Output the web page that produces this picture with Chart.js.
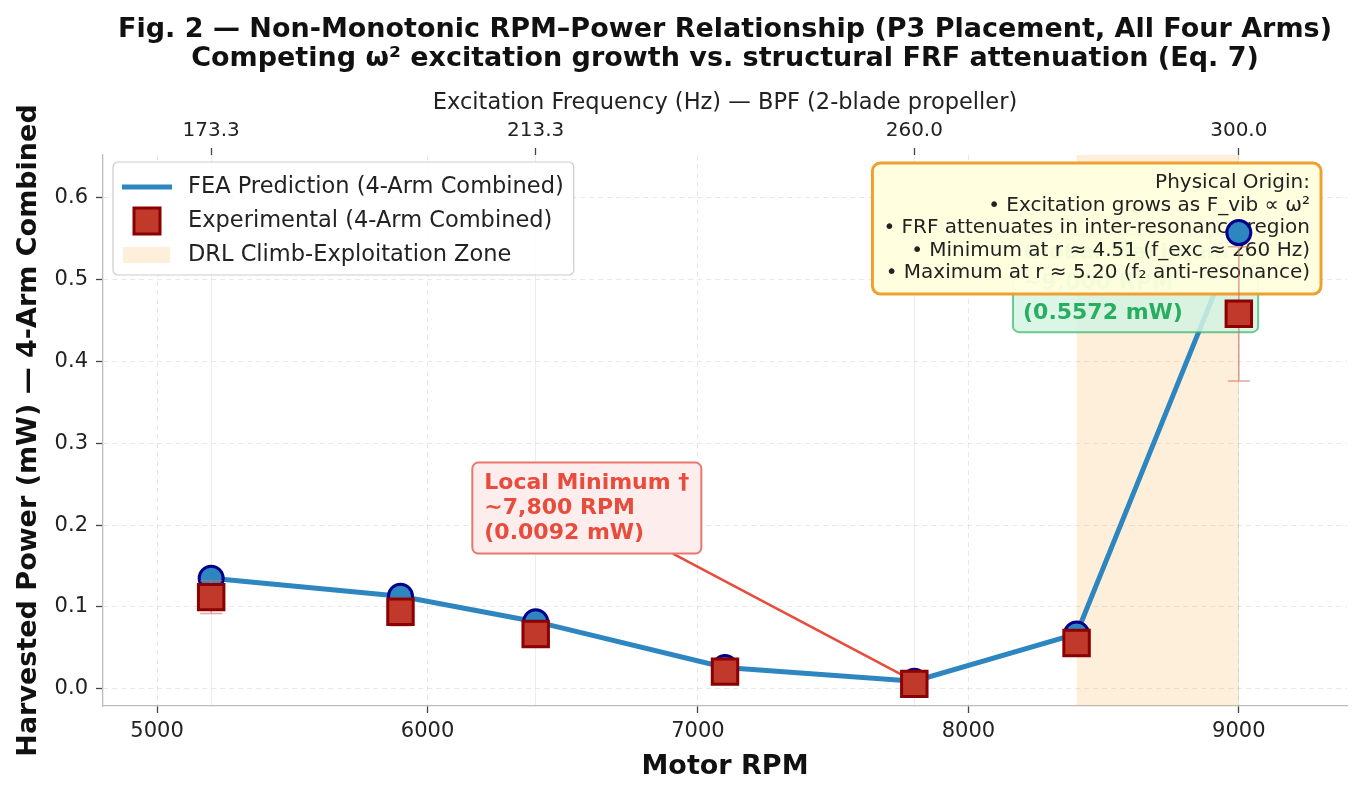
<!DOCTYPE html>
<html>
<head>
<meta charset="utf-8">
<script src="https://cdn.jsdelivr.net/npm/chart.js@4.4.0/dist/chart.umd.min.js"></script>
<style>
  html, body { margin: 0; padding: 0; background: #fff; }
  #wrap { width: 1360px; height: 789px; position: relative; }
</style>
</head>
<body>
<div id="wrap"><canvas id="chart"></canvas></div>
<script>
// --- Datos ---
const rpm = [5200, 5900, 6400, 7100, 7800, 8400, 9000];
const feaPower = [0.135, 0.113, 0.082, 0.026, 0.0092, 0.067, 0.5572];
const expPower = [0.112, 0.094, 0.067, 0.021, 0.006, 0.056, 0.458];
const expErr = [0.020, 0.017, 0.012, 0.004, 0.001, 0.010, 0.082];
const xTicks = [5000, 6000, 7000, 8000, 9000];
const yTicks = [0.0, 0.1, 0.2, 0.3, 0.4, 0.5, 0.6];
const bpfTickRpm = [5200, 6400, 7800, 9000];
const bpfTickLabels = ['173.3', '213.3', '260.0', '300.0'];
const zoneRpm = [8400, 9000];

const titleLines = [
    'Fig. 2 — Non-Monotonic RPM–Power Relationship (P3 Placement, All Four Arms)',
    'Competing ω² excitation growth vs. structural FRF attenuation (Eq. 7)'
];
const legendLabels = [
    'FEA Prediction (4-Arm Combined)',
    'Experimental (4-Arm Combined)',
    'DRL Climb-Exploitation Zone'
];
const physLines = [
    'Physical Origin:',
    '• Excitation grows as F_vib ∝ ω²',
    '• FRF attenuates in inter-resonance region',
    '• Minimum at r ≈ 4.51 (f_exc ≈ 260 Hz)',
    '• Maximum at r ≈ 5.20 (f₂ anti-resonance)'
];
const minLines = ['Local Minimum †', '~7,800 RPM', '(0.0092 mW)'];
const maxLines = ['Global Maximum ‡', '~9,000 RPM', '(0.5572 mW)'];

const FONT = '"DejaVu Sans", sans-serif';
const BLUE = '#2e86c1';
const RED = '#c0392b';
const ZONE = 'rgba(243,156,18,0.16)';

Chart.defaults.font.family = FONT;
Chart.defaults.color = '#222';

const pts = (ys) => rpm.map((x, i) => ({ x, y: ys[i] }));

// --- helpers de dibujo ---
const blockWidth = (ctx, lines) => Math.max(...lines.map(t => ctx.measureText(t).width));

const roundBox = (ctx, x0, y0, x1, y1, r, fill, stroke, lw) => {
    ctx.beginPath();
    ctx.roundRect(x0, y0, x1 - x0, y1 - y0, r);
    ctx.fillStyle = fill;
    ctx.fill();
    ctx.lineWidth = lw;
    ctx.strokeStyle = stroke;
    ctx.stroke();
};

// zona sombreada
const zonePlugin = {
    id: 'zone',
    beforeDatasetsDraw(chart) {
        const { ctx, chartArea: ca, scales: { x } } = chart;
        const a = x.getPixelForValue(zoneRpm[0]);
        const b = x.getPixelForValue(zoneRpm[1]);
        ctx.save();
        ctx.fillStyle = ZONE;
        ctx.fillRect(a, ca.top, b - a, ca.bottom - ca.top);
        ctx.restore();
    }
};

// anotaciones (después de la línea, antes de los marcadores)
const notesPlugin = {
    id: 'notes',
    afterDatasetDraw(chart, args) {
        const { ctx, chartArea: ca, scales: { x, y } } = chart;
        if (args.index === 0) {
            ctx.save();
            ctx.textBaseline = 'middle';

            // caja verde (máximo), casi tapada por la naranja
            ctx.font = 'bold 22px ' + FONT;
            let lh = 30;
            let w = blockWidth(ctx, maxLines);
            let tl = x.getPixelForValue(8202);
            let cy = y.getPixelForValue(0.4955);
            let h = maxLines.length * lh;
            roundBox(ctx, tl - 10, cy - h / 2 - 4, tl + w + 10, cy + h / 2 + 4, 6,
                'rgba(213,245,227,0.85)', 'rgba(39,174,96,0.65)', 2);
            ctx.fillStyle = '#27ae60';
            ctx.textAlign = 'left';
            maxLines.forEach((t, i) => ctx.fillText(t, tl, cy - h / 2 + lh / 2 + i * lh));

            // caja naranja (origen físico)
            ctx.font = '20px ' + FONT;
            lh = 22.5;
            w = blockWidth(ctx, physLines);
            const x1 = ca.right - 26, y0 = ca.top + 8;
            const y1 = y0 + 20 + (physLines.length - 1) * lh + 21;
            roundBox(ctx, x1 - w - 22, y0, x1, y1, 8, 'rgba(255,255,222,0.95)', '#f0a030', 3);
            ctx.fillStyle = '#222';
            ctx.textAlign = 'right';
            physLines.forEach((t, i) => ctx.fillText(t, x1 - 11, y0 + 20 + i * lh));

            // caja roja (mínimo) + flecha
            ctx.font = 'bold 22px ' + FONT;
            lh = 25;
            w = blockWidth(ctx, minLines);
            tl = x.getPixelForValue(6210);
            cy = y.getPixelForValue(0.2207);
            h = minLines.length * lh;
            const bx0 = tl - 12, bx1 = tl + w + 12, by0 = cy - h / 2 - 8, by1 = cy + h / 2 + 8;
            const cx = (bx0 + bx1) / 2;
            const tx = x.getPixelForValue(rpm[4]), ty = y.getPixelForValue(feaPower[4]);
            const dx = tx - cx, dy = ty - cy;
            const t = Math.min((bx1 - cx) / dx, (by1 - cy) / dy);
            ctx.beginPath();
            ctx.moveTo(cx + t * dx, cy + t * dy);
            ctx.lineTo(tx, ty);
            ctx.strokeStyle = '#e74c3c';
            ctx.lineWidth = 2.5;
            ctx.stroke();
            roundBox(ctx, bx0, by0, bx1, by1, 6, 'rgba(253,236,234,0.92)', '#e8776d', 2);
            ctx.fillStyle = '#e74c3c';
            ctx.textAlign = 'left';
            minLines.forEach((s, i) => ctx.fillText(s, tl, cy - h / 2 + lh / 2 + i * lh));
            ctx.restore();
        }
        if (args.index === 1) {
            // barras de error experimentales
            ctx.save();
            ctx.strokeStyle = 'rgba(205,110,100,0.6)';
            ctx.lineWidth = 1.6;
            rpm.forEach((r, i) => {
                const px = x.getPixelForValue(r);
                const lo = y.getPixelForValue(expPower[i] - expErr[i]);
                const hi = y.getPixelForValue(expPower[i] + expErr[i]);
                ctx.beginPath();
                ctx.moveTo(px, lo); ctx.lineTo(px, hi);
                ctx.moveTo(px - 11, lo); ctx.lineTo(px + 11, lo);
                ctx.moveTo(px - 11, hi); ctx.lineTo(px + 11, hi);
                ctx.stroke();
            });
            ctx.restore();
        }
    }
};

// títulos y leyenda
const framePlugin = {
    id: 'frame',
    afterDraw(chart) {
        const { ctx, chartArea: ca } = chart;
        ctx.save();
        ctx.textBaseline = 'middle';
        ctx.textAlign = 'center';
        ctx.fillStyle = '#111';
        ctx.font = 'bold 27px ' + FONT;
        const mid = (ca.left + ca.right) / 2;
        ctx.fillText(titleLines[0], mid, 30);
        ctx.fillText(titleLines[1], mid, 59);

        // leyenda
        ctx.font = '22.5px ' + FONT;
        const x0 = ca.left + 10, y0 = ca.top + 7;
        const tx = x0 + 75;
        const x1 = tx + blockWidth(ctx, legendLabels) + 10;
        roundBox(ctx, x0, y0, x1, y0 + 113, 5, 'rgba(255,255,255,0.85)', '#cccccc', 1.2);
        const rows = [y0 + 25, y0 + 59, y0 + 93];
        ctx.beginPath();
        ctx.moveTo(x0 + 9, rows[0]); ctx.lineTo(x0 + 59, rows[0]);
        ctx.strokeStyle = BLUE; ctx.lineWidth = 5; ctx.stroke();
        ctx.fillStyle = RED; ctx.strokeStyle = '#8b0000'; ctx.lineWidth = 3;
        ctx.fillRect(x0 + 21, rows[1] - 13, 26, 26);
        ctx.strokeRect(x0 + 21, rows[1] - 13, 26, 26);
        ctx.fillStyle = ZONE;
        ctx.fillRect(x0 + 10, rows[2] - 8, 47, 16);
        ctx.fillStyle = '#222';
        ctx.textAlign = 'left';
        legendLabels.forEach((t, i) => ctx.fillText(t, tx, rows[i]));
        ctx.restore();
    }
};

const gridColor = 'rgba(0,0,0,0.09)';

new Chart(document.getElementById('chart'), {
    type: 'scatter',
    data: {
        datasets: [
            { label: legendLabels[0], data: pts(feaPower), showLine: true, borderColor: BLUE, borderWidth: 5,
              pointRadius: 0, order: 3 },
            { label: 'FEA markers', data: pts(feaPower), showLine: false, pointRadius: 12,
              pointBackgroundColor: BLUE, pointBorderColor: '#00008b', pointBorderWidth: 3, order: 2 },
            { label: legendLabels[1], data: pts(expPower), showLine: false, pointStyle: 'rect', pointRadius: 18,
              pointBackgroundColor: RED, pointBorderColor: '#8b0000', pointBorderWidth: 3, order: 1 }
        ]
    },
    options: {
        responsive: true,
        maintainAspectRatio: false,
        animation: false,
        events: [],
        // sin autoPadding: los marcadores grandes no deben encoger el área
        layout: { autoPadding: false, padding: { top: 75, left: 0, right: 13, bottom: 0 } },
        plugins: { legend: { display: false }, tooltip: { enabled: false }, title: { display: false } },
        scales: {
            x: {
                type: 'linear', position: 'bottom', min: 4800, max: 9400,
                afterBuildTicks: (ax) => { ax.ticks = xTicks.map(v => ({ value: v })); },
                afterFit: (ax) => { ax.height = 83; },
                ticks: { font: { size: 21 }, color: '#222', padding: 6, maxRotation: 0, callback: (v) => String(v) },
                grid: { color: gridColor, tickColor: '#444', tickLength: 7, tickBorderDash: [], tickWidth: 1.3 },
                border: { display: true, color: '#bbbbbb', width: 1.3, dash: [5, 4] },
                title: { display: true, text: 'Motor RPM', font: { size: 27, weight: 'bold' }, color: '#111',
                         padding: { top: 0, bottom: 6 } }
            },
            x2: {
                type: 'linear', position: 'top', min: 4800, max: 9400,
                afterBuildTicks: (ax) => { ax.ticks = bpfTickRpm.map(v => ({ value: v })); },
                afterFit: (ax) => { ax.height = 80; },
                ticks: { font: { size: 20 }, color: '#222', padding: 5, maxRotation: 0,
                         callback: (v) => bpfTickLabels[bpfTickRpm.indexOf(v)] },
                grid: { color: 'rgba(0,0,0,0.07)', tickColor: '#444', tickLength: 7, tickWidth: 1.3 },
                border: { display: false },
                title: { display: true, text: 'Excitation Frequency (Hz) — BPF (2-blade propeller)',
                         font: { size: 22.5 }, color: '#222', padding: { top: 15, bottom: 0 } }
            },
            y: {
                type: 'linear', min: -0.021, max: 0.652,
                afterBuildTicks: (ax) => { ax.ticks = yTicks.map(v => ({ value: v })); },
                afterFit: (ax) => { ax.width = 103; },
                ticks: { font: { size: 21 }, color: '#222', padding: 8, callback: (v) => v.toFixed(1) },
                grid: { color: gridColor, tickColor: '#444', tickLength: 7, tickBorderDash: [], tickWidth: 1.3 },
                border: { display: true, color: '#bbbbbb', width: 1.3, dash: [5, 4] },
                title: { display: true, text: 'Harvested Power (mW) — 4-Arm Combined',
                         font: { size: 27, weight: 'bold' }, color: '#111', padding: { top: 13, bottom: 0 } }
            }
        }
    },
    plugins: [zonePlugin, notesPlugin, framePlugin]
});
</script>
</body>
</html>
